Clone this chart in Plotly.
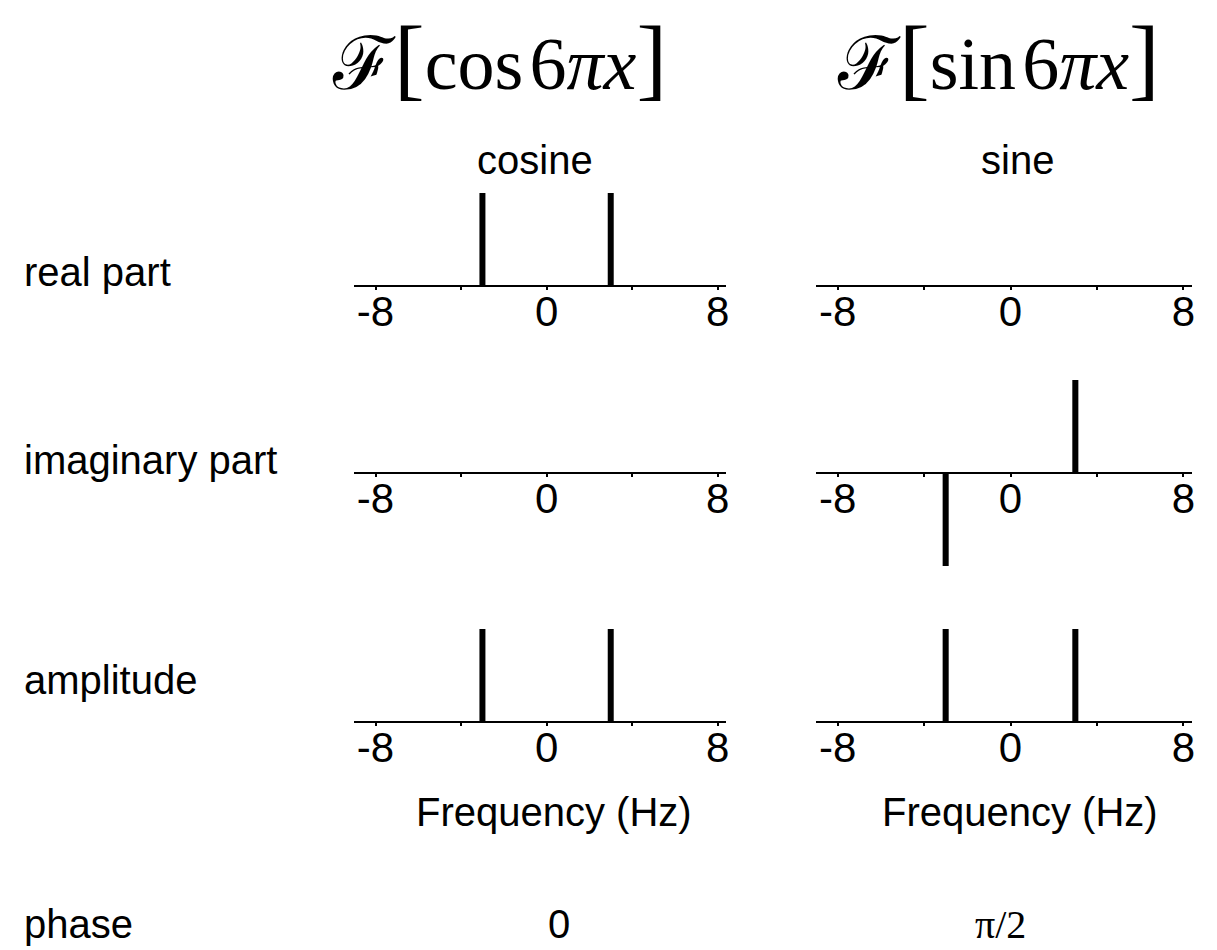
import plotly.graph_objects as go

# Spectrum of cos(6*pi*x) and sin(6*pi*x): components at +/- 3 Hz
freqs = [-3, 3]
cos_real = [0.5, 0.5]
cos_imag = [0.0, 0.0]
cos_amp = [0.5, 0.5]
sin_real = [0.0, 0.0]
sin_imag = [-0.5, 0.5]
sin_amp = [0.5, 0.5]

tick_vals = [-8, 0, 8]
tick_text = ["-8", "0", "8"]
minor_vals = [-4, 4]

row_labels = ["real part", "imaginary part", "amplitude", "phase"]
col_labels = ["cosine", "sine"]
phase_labels = ["0", "π/2"]
x_title = "Frequency (Hz)"

W, H = 1217, 950
SANS = "Liberation Sans, Arial, Helvetica, sans-serif"
SERIF = "Liberation Serif, Times New Roman, serif"
FS = 40

def px(x):
    return x / W

def py(y):
    return 1 - y / H

# panel geometry (pixels): axis extents per column, zero-line level per row
col_x = [(355, 728), (818, 1195)]
row_y = [286, 473, 722]
half = 100  # half-height of each panel in pixels
x_range = [-9.0, 8.4]
y_range = [-0.5375, 0.5375]

panels = [
    (0, 0, cos_real), (0, 1, sin_real),
    (1, 0, cos_imag), (1, 1, sin_imag),
    (2, 0, cos_amp), (2, 1, sin_amp),
]

fig = go.Figure()
layout = {}
for i, (r, c, vals) in enumerate(panels, start=1):
    xa = "x" if i == 1 else f"x{i}"
    ya = "y" if i == 1 else f"y{i}"
    fig.add_trace(go.Bar(
        x=freqs, y=vals, width=0.28,
        marker=dict(color="black", line=dict(width=0)),
        xaxis=xa, yaxis=ya, showlegend=False, hoverinfo="skip",
    ))
    x0, x1 = col_x[c]
    yz = row_y[r]
    key = "" if i == 1 else str(i)
    layout[f"xaxis{key}"] = dict(
        domain=[px(x0), px(x1)], range=x_range,
        anchor="free", position=py(yz),
        showline=True, linecolor="black", linewidth=2,
        showgrid=False, zeroline=False,
        tickmode="array", tickvals=tick_vals, ticktext=tick_text,
        ticks="outside", ticklen=3, tickwidth=1.5, tickcolor="black",
        minor=dict(tickmode="array", tickvals=minor_vals, ticks="outside",
                   ticklen=3, tickwidth=1.5, tickcolor="black"),
        tickfont=dict(family=SANS, size=42, color="black"),
        ticklabelstandoff=-14,
        fixedrange=True,
    )
    layout[f"yaxis{key}"] = dict(
        domain=[py(yz + half), py(yz - half)], range=y_range,
        anchor=xa, visible=False, fixedrange=True,
    )

fig.update_layout(**layout)

ann = []
# column titles (Fourier transform notation)
big = '<span style="font-size:92px">'
for cx, fn in [(501, "cos"), (1001, "sin")]:
    ann.append(dict(
        x=px(cx), y=py(58), xref="paper", yref="paper",
        text=f"ℱ{big}[</span>{fn}\u200a6<i>πx</i>{big}]</span>",
        showarrow=False, xanchor="center", yanchor="middle",
        font=dict(family=SERIF, size=74, color="black"),
    ))
# column names
for cx, t in zip([536, 1020], col_labels):
    ann.append(dict(x=px(cx), y=py(160), xref="paper", yref="paper", text=t,
                    showarrow=False, xanchor="center", yanchor="middle",
                    font=dict(family=SANS, size=FS, color="black")))
# row names
for cy, t in zip([272, 460, 680, 924], row_labels):
    ann.append(dict(x=px(22), y=py(cy), xref="paper", yref="paper", text=t,
                    showarrow=False, xanchor="left", yanchor="middle",
                    font=dict(family=SANS, size=FS, color="black")))
# frequency axis titles
for cx in [555, 1023]:
    ann.append(dict(x=px(cx), y=py(812), xref="paper", yref="paper", text=x_title,
                    showarrow=False, xanchor="center", yanchor="middle",
                    font=dict(family=SANS, size=FS, color="black")))
# phase values
ann.append(dict(x=px(560), y=py(924), xref="paper", yref="paper", text=phase_labels[0],
                showarrow=False, xanchor="center", yanchor="middle",
                font=dict(family=SANS, size=FS, color="black")))
ann.append(dict(x=px(1003), y=py(924), xref="paper", yref="paper", text=phase_labels[1],
                showarrow=False, xanchor="center", yanchor="middle",
                font=dict(family=SERIF, size=FS, color="black")))

fig.update_layout(
    width=W, height=H,
    margin=dict(l=0, r=0, t=0, b=0),
    paper_bgcolor="white", plot_bgcolor="rgba(0,0,0,0)",
    annotations=ann, barmode="overlay", showlegend=False,
)

fig.write_html("out.html", config={"displayModeBar": False})
